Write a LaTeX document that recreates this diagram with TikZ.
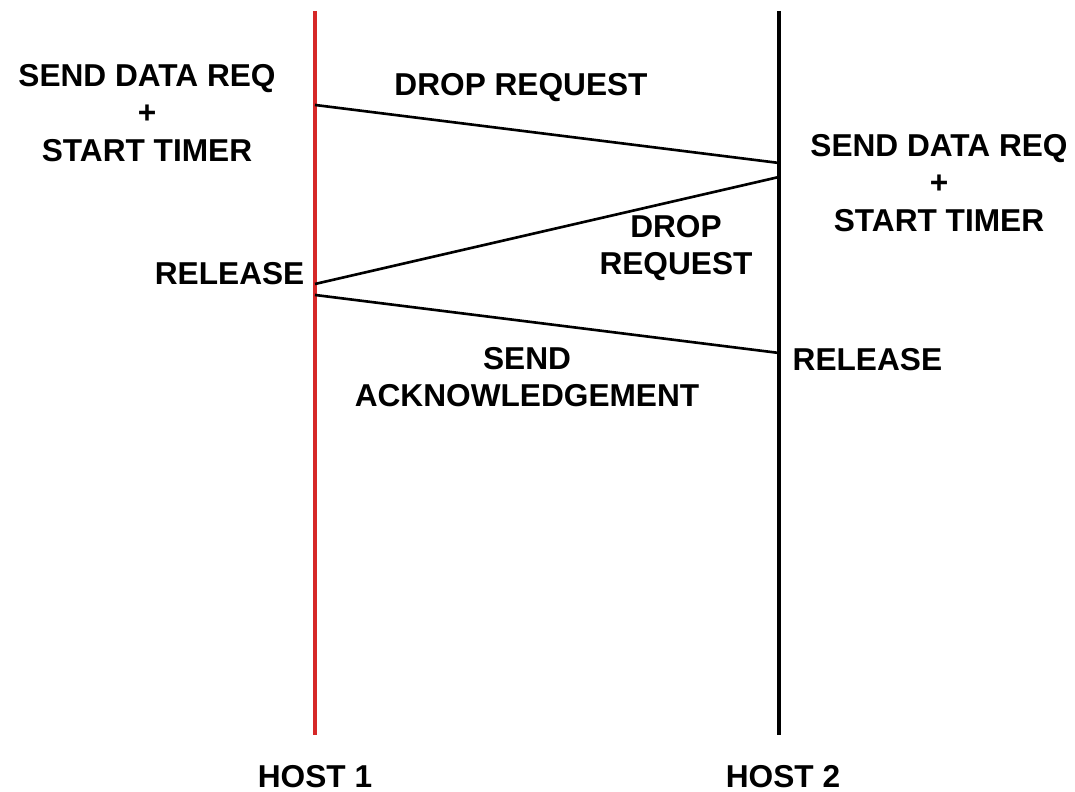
\documentclass[tikz,border=0pt]{standalone}
\usepackage{fontspec}
\setmainfont{Liberation Sans}
\definecolor{rosso}{RGB}{214,40,40}

\begin{document}
\begin{tikzpicture}[
    testo/.style={font=\bfseries\fontsize{9}{10.6}\selectfont, align=center, inner sep=0pt},
    host/.style={line width=1.2pt},
    messaggio/.style={line width=0.75pt}
]

    \useasboundingbox (0,0) rectangle (10.75,7.92);

    %-------------------------
    % Linee dei due host
    %-------------------------
    \coordinate (h1top) at (3.15,7.81);
    \coordinate (h1bot) at (3.15,0.57);
    \coordinate (h2top) at (7.79,7.81);
    \coordinate (h2bot) at (7.79,0.57);

    \draw[host, rosso] (h1top) -- (h1bot);
    \draw[host, black] (h2top) -- (h2bot);

    \node[testo] (host1) at (3.15,0.15) {HOST 1};
    \node[testo] (host2) at (7.83,0.15) {HOST 2};

    %-------------------------
    % Messaggi
    %-------------------------
    \coordinate (m1a) at (3.15,6.87);
    \coordinate (m1b) at (7.79,6.29);
    \coordinate (m2a) at (7.79,6.15);
    \coordinate (m2b) at (3.15,5.08);
    \coordinate (m3a) at (3.15,4.97);
    \coordinate (m3b) at (7.79,4.39);

    \draw[messaggio] (m1a) -- (m1b);
    \draw[messaggio] (m2a) -- (m2b);
    \draw[messaggio] (m3a) -- (m3b);

    % Etichette dei messaggi
    \node[testo] (drop1) at (5.21,7.04) {DROP REQUEST};
    \node[testo] (drop2) at (6.76,5.44) {DROP\\REQUEST};
    \node[testo] (ack) at (5.27,4.15) {SEND\\ACKNOWLEDGEMENT};

    %-------------------------
    % Eventi sugli host
    %-------------------------
    \node[testo] (send1) at (1.47,6.79) {SEND DATA REQ\\+\\START TIMER};
    \node[testo] (send2) at (9.39,6.09) {SEND DATA REQ\\+\\START TIMER};

    \node[testo, anchor=east] (rel1) at (3.05,5.18) {RELEASE};
    \node[testo, anchor=west] (rel2) at (7.92,4.32) {RELEASE};

\end{tikzpicture}
\end{document}
